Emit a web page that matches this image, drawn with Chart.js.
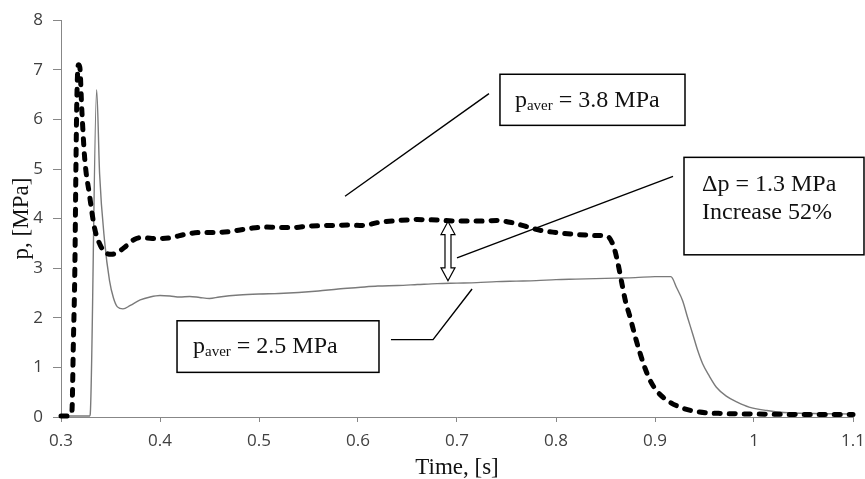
<!DOCTYPE html>
<html>
<head>
<meta charset="utf-8">
<script src="https://cdn.jsdelivr.net/npm/chart.js@4"></script>
<style>
  html, body { margin: 0; padding: 0; background: #fff; }
  #wrap { width: 865px; height: 479px; position: relative; }
</style>
</head>
<body>
<div id="wrap"><canvas id="chart"></canvas></div>
<script>
// Axis ticks
const xTicks = [0.3, 0.4, 0.5, 0.6, 0.7, 0.8, 0.9, 1, 1.1];
const yTicks = [0, 1, 2, 3, 4, 5, 6, 7, 8];

// Dashed series (higher pressure)
const dashedT = [0.300, 0.305, 0.309, 0.311, 0.3125, 0.314, 0.315, 0.316, 0.3175, 0.319, 0.321, 0.324, 0.3286, 0.334, 0.340, 0.346, 0.351, 0.358, 0.366, 0.374, 0.382, 0.392, 0.402, 0.412, 0.425, 0.44, 0.455, 0.47, 0.49, 0.505, 0.52, 0.535, 0.55, 0.57, 0.59, 0.605, 0.62, 0.64, 0.66, 0.68, 0.70, 0.72, 0.74, 0.755, 0.77, 0.785, 0.80, 0.82, 0.84, 0.852, 0.858, 0.862, 0.866, 0.870, 0.875, 0.880, 0.885, 0.890, 0.895, 0.902, 0.912, 0.925, 0.945, 0.97, 1.0, 1.05, 1.1];
const dashedP = [0.02, 0.02, 0.03, 0.1, 1.5, 3.0, 4.9, 6.4, 7.1, 7.05, 6.2, 5.2, 4.5, 3.8, 3.45, 3.3, 3.28, 3.33, 3.45, 3.58, 3.62, 3.6, 3.6, 3.62, 3.68, 3.72, 3.72, 3.74, 3.8, 3.83, 3.82, 3.82, 3.85, 3.86, 3.87, 3.86, 3.92, 3.96, 3.98, 3.97, 3.95, 3.95, 3.96, 3.92, 3.84, 3.76, 3.72, 3.68, 3.66, 3.64, 3.45, 3.15, 2.75, 2.35, 2.0, 1.62, 1.28, 0.98, 0.74, 0.52, 0.34, 0.2, 0.1, 0.07, 0.06, 0.05, 0.05];

// Solid series (lower pressure)
const solidT = [0.300, 0.329, 0.3295, 0.336, 0.339, 0.344, 0.349, 0.353, 0.357, 0.3626, 0.370, 0.380, 0.390, 0.400, 0.410, 0.420, 0.430, 0.44, 0.45, 0.46, 0.48, 0.50, 0.52, 0.54, 0.56, 0.58, 0.60, 0.62, 0.64, 0.66, 0.68, 0.70, 0.72, 0.74, 0.76, 0.78, 0.80, 0.82, 0.84, 0.86, 0.88, 0.90, 0.916, 0.922, 0.928, 0.933, 0.938, 0.943, 0.948, 0.955, 0.962, 0.972, 0.983, 0.995, 1.013, 1.03, 1.06, 1.1];
const solidP = [0.02, 0.02, 0.05, 6.6, 4.9, 3.55, 2.75, 2.4, 2.22, 2.18, 2.25, 2.36, 2.42, 2.45, 2.44, 2.42, 2.43, 2.41, 2.39, 2.42, 2.46, 2.48, 2.49, 2.51, 2.54, 2.58, 2.61, 2.64, 2.65, 2.67, 2.69, 2.70, 2.71, 2.73, 2.74, 2.75, 2.77, 2.78, 2.79, 2.80, 2.81, 2.83, 2.83, 2.6, 2.34, 2.0, 1.68, 1.35, 1.08, 0.82, 0.6, 0.42, 0.3, 0.2, 0.13, 0.09, 0.07, 0.06];

const toPoints = (xs, ys) => xs.map((x, i) => ({ x: x, y: ys[i] }));

const SERIF = '"Liberation Serif", "DejaVu Serif", serif';
const AXIS_GREY = '#878787';

// annotation positions in data units
const callouts = [
    { x0: 0.7434, x1: 0.9303, y0: 6.91, y1: 5.88, padX: 15, base: [33], parts: [[['p', 24, 0], ['aver', 15, 3], [' = 3.8 MPa', 24, 0]]] },
    { x0: 0.9293, x1: 1.1111, y0: 5.235, y1: 3.27, padX: 18, base: [34, 62], parts: [[['\u0394p = 1.3 MPa', 24, 0]], [['Increase 52%', 24, 0]]] },
    { x0: 0.4172, x1: 0.6212, y0: 1.94, y1: 0.90, padX: 16, base: [32], parts: [[['p', 24, 0], ['aver', 15, 3], [' = 2.5 MPa', 24, 0]]] }
];
const leaders = [
    [[0.5869, 4.45], [0.7323, 6.52]],
    [[0.700, 3.207], [0.9182, 4.853]],
    [[0.6333, 1.56], [0.6758, 1.56], [0.7152, 2.58]]
];
const arrow = { x: 0.6909, top: 3.94, bottom: 2.745 };

const annotationPlugin = {
    id: 'callouts',
    afterDraw(chart) {
        const ctx = chart.ctx;
        const xs = chart.scales.x, ys = chart.scales.y;
        const px = v => xs.getPixelForValue(v);
        const py = v => ys.getPixelForValue(v);
        ctx.save();

        // leader lines
        ctx.strokeStyle = '#000';
        ctx.lineWidth = 1.4;
        leaders.forEach(pts => {
            ctx.beginPath();
            pts.forEach((p, i) => {
                if (i === 0) ctx.moveTo(px(p[0]), py(p[1]));
                else ctx.lineTo(px(p[0]), py(p[1]));
            });
            ctx.stroke();
        });

        // double arrow (hollow)
        const cx = px(arrow.x), t = py(arrow.top), b = py(arrow.bottom);
        const hh = 13, hw = 7, sw = 3;
        ctx.beginPath();
        ctx.moveTo(cx, t);
        ctx.lineTo(cx + hw, t + hh);
        ctx.lineTo(cx + sw, t + hh);
        ctx.lineTo(cx + sw, b - hh);
        ctx.lineTo(cx + hw, b - hh);
        ctx.lineTo(cx, b);
        ctx.lineTo(cx - hw, b - hh);
        ctx.lineTo(cx - sw, b - hh);
        ctx.lineTo(cx - sw, t + hh);
        ctx.lineTo(cx - hw, t + hh);
        ctx.closePath();
        ctx.fillStyle = '#fff';
        ctx.fill();
        ctx.lineWidth = 1.2;
        ctx.stroke();

        // boxes with text
        callouts.forEach(c => {
            const l = px(c.x0), r = px(c.x1), tp = py(c.y0), bt = py(c.y1);
            ctx.fillStyle = '#fff';
            ctx.fillRect(l, tp, r - l, bt - tp);
            ctx.lineWidth = 1.5;
            ctx.strokeStyle = '#000';
            ctx.strokeRect(l, tp, r - l, bt - tp);
            ctx.fillStyle = '#111';
            ctx.textBaseline = 'alphabetic';
            ctx.textAlign = 'left';
            c.parts.forEach((line, li) => {
                let x = l + c.padX;
                const y = tp + c.base[li];
                line.forEach(([txt, size, dy]) => {
                    ctx.font = size + 'px ' + SERIF;
                    ctx.fillText(txt, x, y + dy);
                    x += ctx.measureText(txt).width;
                });
            });
        });
        ctx.restore();
    }
};

new Chart(document.getElementById('chart'), {
    type: 'scatter',
    data: {
        datasets: [
            {
                label: 'dashed',
                data: toPoints(dashedT, dashedP),
                showLine: true,
                borderColor: '#000',
                borderWidth: 5,
                borderDash: [6, 9],
                borderCapStyle: 'round',
                pointRadius: 0,
                cubicInterpolationMode: 'monotone',
                clip: false
            },
            {
                label: 'solid',
                data: toPoints(solidT, solidP),
                showLine: true,
                borderColor: '#7a7a7a',
                borderWidth: 1.4,
                pointRadius: 0,
                cubicInterpolationMode: 'monotone',
                clip: false
            }
        ]
    },
    options: {
        responsive: true,
        maintainAspectRatio: false,
        animation: false,
        layout: { padding: { top: 18, right: 12, left: 0, bottom: 0 } },
        plugins: { legend: { display: false }, tooltip: { enabled: false } },
        scales: {
            x: {
                type: 'linear',
                min: 0.3,
                max: 1.1,
                afterBuildTicks: s => { s.ticks = xTicks.map(v => ({ value: v })); },
                afterFit: s => { s.height = 62; s.paddingRight = 0; s.paddingLeft = 0; },
                border: { display: true, color: AXIS_GREY, width: 1 },
                grid: { drawOnChartArea: false, drawTicks: true, tickLength: 5, color: AXIS_GREY },
                ticks: {
                    padding: 9,
                    color: '#404040',
                    font: { family: '"Open Sans", sans-serif', size: 17 },
                    maxRotation: 0,
                    callback: v => String(v)
                },
                title: {
                    display: true,
                    text: 'Time, [s]',
                    color: '#111',
                    font: { family: SERIF, size: 23, lineHeight: 1 },
                    padding: { top: 0, bottom: 0 }
                }
            },
            y: {
                type: 'linear',
                min: 0,
                max: 8,
                afterBuildTicks: s => { s.ticks = yTicks.map(v => ({ value: v })); },
                afterFit: s => { s.width = 61; },
                border: { display: true, color: AXIS_GREY, width: 1 },
                grid: { drawOnChartArea: false, drawTicks: true, tickLength: 8, color: AXIS_GREY },
                ticks: {
                    padding: 10,
                    color: '#404040',
                    font: { family: '"Open Sans", sans-serif', size: 17 },
                    callback: v => String(v)
                },
                title: {
                    display: true,
                    text: 'p, [MPa]',
                    color: '#111',
                    font: { family: SERIF, size: 23, lineHeight: 1 },
                    padding: { top: 10, bottom: 0 }
                }
            }
        }
    },
    plugins: [annotationPlugin]
});
</script>
</body>
</html>
